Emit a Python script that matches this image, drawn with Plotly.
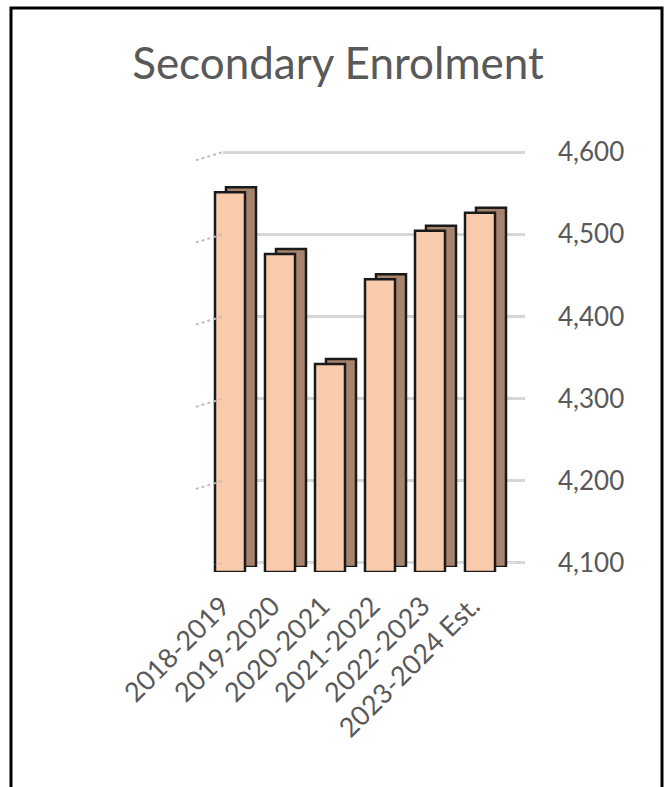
import plotly.graph_objects as go

W, H = 669, 787

categories = ["2018-2019", "2019-2020", "2020-2021", "2021-2022", "2022-2023", "2023-2024 Est."]
enrolment = [4562, 4487, 4353, 4456, 4515, 4537]
tick_vals = [4100, 4200, 4300, 4400, 4500, 4600]
tick_text = ["4,100", "4,200", "4,300", "4,400", "4,500", "4,600"]
title_text = "Secondary Enrolment"

BASE = 4100
YR = [4100, 4600]
FRONT = "#F8CBAD"
SIDE = "#A6836C"
TXT = "#595959"
FONT = "Lato"


def xd(a, b):
    return [a / W, b / W]


def yd(top, bottom):
    return [1 - bottom / H, 1 - top / H]


heights = [v - BASE for v in enrolment]

fig = go.Figure()

# back wall gridlines (subplot xy, drawn first)
fig.add_trace(go.Bar(x=categories, y=[0] * len(categories), base=BASE,
                     xaxis="x", yaxis="y", marker_color="rgba(0,0,0,0)",
                     showlegend=False, hoverinfo="skip"))
# depth (side/top) of bars
fig.add_trace(go.Bar(x=categories, y=heights, base=BASE, xaxis="x2", yaxis="y2",
                     width=0.6, marker=dict(color=SIDE, line=dict(color="#1a1a1a", width=2.5)),
                     showlegend=False, hoverinfo="skip"))
# front face of bars
fig.add_trace(go.Bar(x=categories, y=heights, base=BASE, xaxis="x3", yaxis="y3",
                     width=0.6, marker=dict(color=FRONT, line=dict(color="#1a1a1a", width=2.5)),
                     showlegend=False, hovertemplate="%{x}: %{customdata:,}<extra></extra>",
                     customdata=enrolment))

common_x = dict(type="category", range=[-0.5, 5.5], showgrid=False, zeroline=False,
                showline=False, fixedrange=True, automargin=False)

fig.update_layout(
    width=W, height=H, autosize=False,
    margin=dict(l=0, r=0, t=0, b=0, pad=0, autoexpand=False),
    paper_bgcolor="white", plot_bgcolor="rgba(0,0,0,0)",
    font=dict(family=FONT, color=TXT),
    bargap=0.4,
    title=dict(text=title_text, x=338 / W, xanchor="center", y=1 - 64 / H, yanchor="middle",
               automargin=False, font=dict(family=FONT, size=44, color=TXT)),
    xaxis=dict(domain=xd(223, 525), showticklabels=False, **common_x),
    yaxis=dict(domain=yd(150.4, 564.6), range=[4098, 4602], side="right", tickvals=tick_vals,
               ticktext=tick_text, showgrid=True, gridcolor="#D6D6D6", gridwidth=3, zeroline=False,
               showline=False, automargin=False, ticklabelstandoff=32,
               tickfont=dict(family=FONT, size=26, color=TXT), anchor="x"),
    xaxis2=dict(domain=xd(216, 516), showticklabels=False, anchor="y2", **common_x),
    yaxis2=dict(domain=yd(156, 567), range=YR, showgrid=False, zeroline=False, showticklabels=False,
                automargin=False, anchor="x2"),
    xaxis3=dict(domain=xd(205, 505), anchor="y3", tickangle=-45, ticks="",
                ticklabelshift=-8, ticklabelstandoff=12,
                tickfont=dict(family=FONT, size=27, color=TXT), **common_x),
    yaxis3=dict(domain=yd(161, 572), range=YR, showgrid=False, zeroline=False, showticklabels=False,
                automargin=False, anchor="x3"),
)

# small diagonal wall-edge stubs at each gridline
for t in tick_vals:
    fig.add_shape(type="line", xref="x domain", yref="y", x0=-0.09, x1=0.0, y0=t - 10, y1=t,
                  line=dict(color="#BFBFBF", width=2, dash="dot"))

# outer border
fig.add_shape(type="rect", xref="paper", yref="paper", x0=11 / W, x1=662 / W, y0=-0.01, y1=1 - 8 / H,
              line=dict(color="black", width=3), fillcolor="rgba(0,0,0,0)", layer="above")

fig.write_html("out.html")
